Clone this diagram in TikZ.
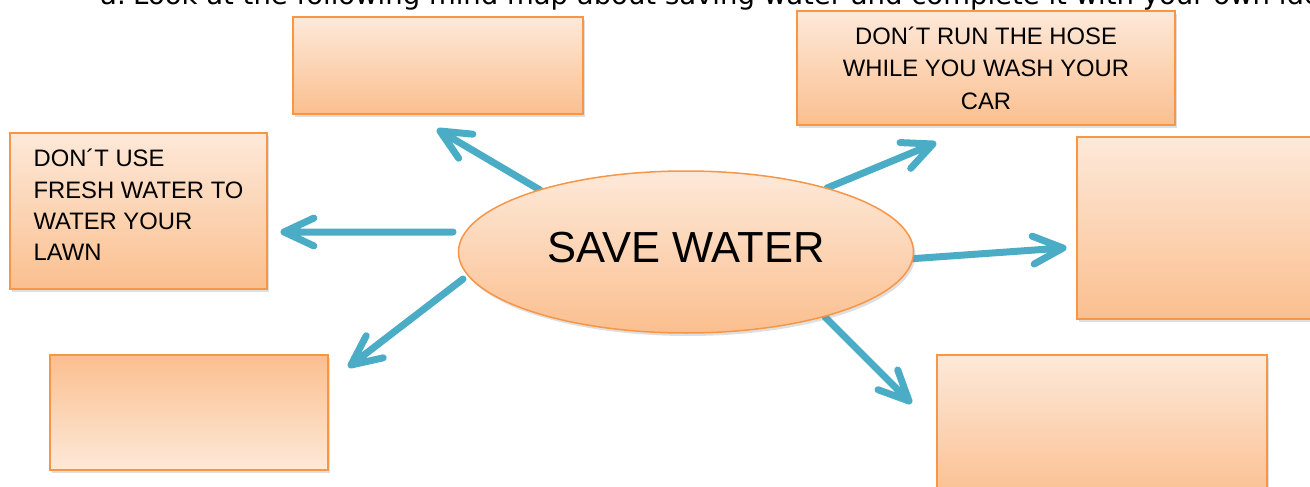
\documentclass[tikz,border=0pt]{standalone}
\usepackage{fontspec}
\setmainfont{Liberation Sans}
\newfontfamily\hdrfont{DejaVu Sans}
\usetikzlibrary{calc,shadows,shapes.geometric}
\definecolor{boxtop}{RGB}{253,233,217}
\definecolor{boxbot}{RGB}{251,191,143}
\definecolor{boxline}{RGB}{247,150,70}
\definecolor{arrowc}{RGB}{75,172,198}
\begin{document}
\begin{tikzpicture}[x=1pt,y=1pt,
  box/.style={rectangle, draw=boxline, line width=2pt, top color=boxtop, bottom color=boxbot, inner sep=0pt,
    drop shadow={shadow xshift=2pt, shadow yshift=-3pt, opacity=0.25}},
  boxinv/.style={box, top color=boxbot, bottom color=boxtop},
  spoke/.style={draw=arrowc, line width=7pt, line cap=round, line join=round},
  boxtext/.style={inner sep=0pt, font=\fontsize{23.8}{32.5}\selectfont},
]
\useasboundingbox (0,0) rectangle (1310,-487);
\clip (0,0) rectangle (1310,-487);

% header (cut off at top)
\node[anchor=base west, inner sep=0pt, font=\hdrfont\fontsize{27.5}{30}\selectfont] (hdr) at (100,-5)
  {\makebox[33pt][l]{a.}Look at the following mind map about saving water and complete it with your own ideas};

% arrow ends
\coordinate (ta) at (540,-190); \coordinate (ha) at (440,-131);
\coordinate (tb) at (453,-232); \coordinate (hb) at (284,-232);
\coordinate (tc) at (463,-279); \coordinate (hc) at (351,-365);
\coordinate (td) at (827,-188); \coordinate (hd) at (933,-144);
\coordinate (te) at (908,-259); \coordinate (he) at (1063,-248);
\coordinate (tf) at (825,-317); \coordinate (hf) at (909,-401);

\foreach \t/\h in {ta/ha,tb/hb,tc/hc,td/hd,te/he,tf/hf}
  \draw[spoke] (\t) -- (\h)
    ($(\h)!33pt!25:(\t)$) -- (\h) -- ($(\h)!33pt!-25:(\t)$);

% center
\node[ellipse, draw=boxline, line width=1.5pt, top color=boxtop, bottom color=boxbot, inner sep=0pt,
  minimum width=455pt, minimum height=162pt, text depth=10pt,
  drop shadow={shadow xshift=2pt, shadow yshift=-3pt, opacity=0.25},
  font=\fontsize{43.5}{50}\selectfont] (center) at (686,-252) {SAVE WATER};

% boxes
\node[box, minimum width=290pt, minimum height=97pt] (boxtc) at (438,-65.5) {};
\node[box, boxtext, align=center, minimum width=378pt, minimum height=114pt] (boxtr) at (986,-68)
  {DON´T RUN THE HOSE\\WHILE YOU WASH YOUR\\CAR};
\node[box, minimum width=257pt, minimum height=156pt] (boxl) at (138.5,-211) {};
\node[boxtext, align=left, font=\fontsize{23.8}{31.3}\selectfont] (boxltext) at (138.5,-205)
  {DON´T USE\\FRESH WATER TO\\WATER YOUR\\LAWN};
\node[box, minimum width=253pt, minimum height=182pt] (boxr) at (1203.5,-228) {};
\node[box, minimum width=330pt, minimum height=145pt] (boxbr) at (1102,-427.5) {};
\node[boxinv, minimum width=278pt, minimum height=115pt] (boxbl) at (189,-412.5) {};
\end{tikzpicture}
\end{document}
